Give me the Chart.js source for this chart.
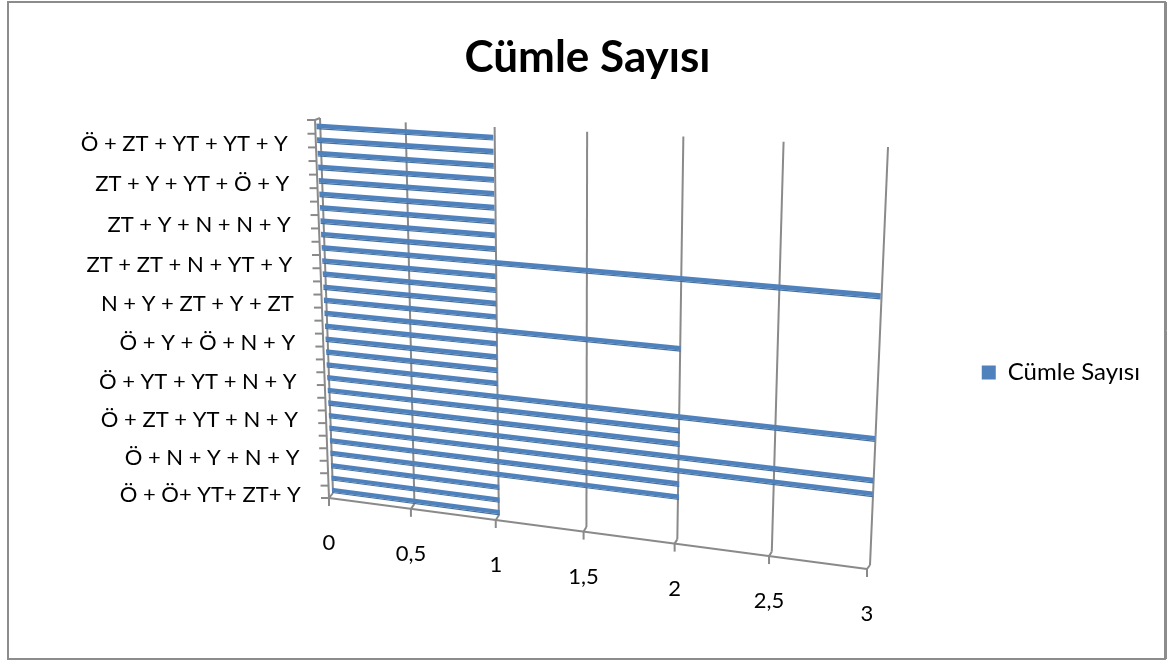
<!DOCTYPE html>
<html><head><meta charset="utf-8">
<style>html,body{margin:0;padding:0;background:#fff}canvas{display:block;filter:blur(0.5px)}</style>
<script src="https://cdn.jsdelivr.net/npm/chart.js@4/dist/chart.umd.min.js"></script>
</head><body>
<canvas id="c" width="1171" height="661"></canvas>
<script>
// Bottom-to-top category order; only every third label is legible in the reference
const categories = [
 "Ö + Ö+ YT+ ZT+ Y","","","Ö + N + Y + N + Y","","","Ö + ZT + YT + N + Y","","",
 "Ö + YT + YT + N + Y","","","Ö + Y + Ö + N + Y","","","N + Y + ZT + Y + ZT","","",
 "ZT + ZT + N + YT + Y","","","ZT + Y + N + N + Y","","","ZT + Y + YT + Ö + Y","","",
 "Ö + ZT + YT + YT + Y",""
];
const cumleSayisi = [1,1,1,2,2,3,3,2,2,3,1,1,1,1,2,1,1,1,1,3,1,1,1,1,1,1,1,1,1];
const xTickLabels = ["0","0,5","1","1,5","2","2,5","3"];
const seriesName = "Cümle Sayısı";

function homography(q){ // unit square -> quad [TL,TR,BR,BL]
  const [[x0,y0],[x1,y1],[x2,y2],[x3,y3]]=q;
  const dx1=x1-x2,dx2=x3-x2,sx=x0-x1+x2-x3,dy1=y1-y2,dy2=y3-y2,sy=y0-y1+y2-y3;
  const d=dx1*dy2-dx2*dy1,g=(sx*dy2-dx2*sy)/d,h=(dx1*sy-sx*dy1)/d;
  const a=x1-x0+g*x1,b=x3-x0+h*x3,e=y1-y0+g*y1,f=y3-y0+h*y3;
  return (u,v)=>{const w=g*u+h*v+1;return [(a*u+b*v+x0)/w,(e*u+f*v+y0)/w];};
}
const barPlane = homography([[316.2,119.5],[886.3,155],[869.7,569],[332.3,496.5]]);
const wallPlane = homography([[320,118],[888,147],[870,565],[333,493]]);
const frontPlane = homography([[315,120],[885,150],[867,569],[329,498]]);
let area=null;
const uv=(x,y)=>[(x-area.left)/(area.right-area.left),(y-area.top)/(area.bottom-area.top)];
const FONT='Lato, "Open Sans", sans-serif';

Chart.BarElement.prototype.draw=function(ctx){
  const {x,y,base,height}=this.getProps(['x','y','base','height'],true);
  const pt=(px,py)=>barPlane(...uv(px,py));
  const t=y-height/2,b=y+height/2,m=y+height*0.3;
  const poly=(yA,yB,c)=>{
    const P=[pt(base,yA),pt(x,yA),pt(x,yB),pt(base,yB)];
    ctx.fillStyle=c;ctx.beginPath();ctx.moveTo(...P[0]);P.slice(1).forEach(p=>ctx.lineTo(...p));ctx.closePath();ctx.fill();
  };
  ctx.save();
  poly(t,m,this.options.backgroundColor);
  poly(m,b,'#44709F');
  ctx.restore();
};

const frame={id:'frame',beforeDraw(ch){
  const c=ch.ctx;area=ch.chartArea;
  c.save();c.strokeStyle='#8c8c8c';c.lineWidth=2;c.strokeRect(8,2,1157,657);c.lineWidth=1;c.beginPath();c.moveTo(1166.5,2);c.lineTo(1166.5,659);c.stroke();c.restore();
}};
const wall={id:'wall',beforeDatasetsDraw(ch){
  const c=ch.ctx,xs=ch.scales.x,ys=ch.scales.y;area=ch.chartArea;
  const line=(a,b)=>{c.beginPath();c.moveTo(...a);c.lineTo(...b);c.stroke();};
  c.save();c.strokeStyle='#8a8a8a';c.lineWidth=2;
  xs.ticks.forEach((t,i)=>{
    const u=uv(xs.getPixelForValue(t.value),0)[0];
    const wt=wallPlane(u,0),wb=wallPlane(u,1),f=frontPlane(u,1);
    line(wt,wb);line(wb,f);line(f,[f[0],f[1]+8]);
    c.save();c.fillStyle='#000';c.font='22px '+FONT;c.textAlign='center';c.textBaseline='middle';
    c.fillText(t.label,f[0],f[1]+45);c.restore();
  });
  line(frontPlane(0,0),frontPlane(0,1));line(frontPlane(0,1),frontPlane(1,1));line(frontPlane(0,0),wallPlane(0,0));
  const step=ys.getPixelForValue(0)-ys.getPixelForValue(1);
  for(let i=0;i<=categories.length;i++){
    const v=uv(area.left,ys.getPixelForValue(i)+step/2)[1];
    const p=frontPlane(0,v);line(p,[p[0]-8,p[1]]);
  }
  c.fillStyle='#000';c.font='22px '+FONT;c.textAlign='right';c.textBaseline='middle';
  categories.forEach((s,i)=>{
    if(!s)return;
    const p=frontPlane(0,uv(area.left,ys.getPixelForValue(i))[1]);
    c.fillText(s,p[0]-28,p[1]+3);
  });
  c.restore();
}};

new Chart(document.getElementById('c'),{
  type:'bar',
  data:{labels:categories,datasets:[{label:seriesName,data:cumleSayisi,backgroundColor:'#4F81BD',borderWidth:0,categoryPercentage:1,barPercentage:0.42}]},
  plugins:[frame,wall],
  options:{
    indexAxis:'y',responsive:false,animation:false,
    layout:{padding:{left:25,right:21,top:0,bottom:37}},
    scales:{
      x:{display:false,min:0,max:3,ticks:{stepSize:0.5,callback:(v,i)=>xTickLabels[i]}},
      y:{display:false,reverse:true,ticks:{autoSkip:false}}
    },
    plugins:{
      tooltip:{enabled:false},
      title:{display:true,text:seriesName,color:'#000',font:{family:FONT,size:44,weight:'bold'},padding:{top:31,bottom:37}},
      legend:{position:'right',fullSize:false,labels:{boxWidth:14,boxHeight:14,padding:8,color:'#000',font:{family:FONT,size:24}}}
    }
  }
});
</script>
</body></html>
